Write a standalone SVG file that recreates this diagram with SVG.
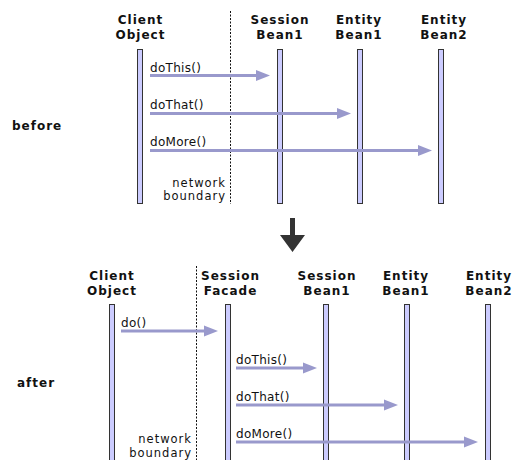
<svg xmlns="http://www.w3.org/2000/svg" width="516" height="460" viewBox="0 0 516 460">
<defs>
<style>
.hd{font-family:"DejaVu Sans",Verdana,sans-serif;font-weight:bold;font-size:12px;letter-spacing:1px;fill:#111;text-anchor:middle}
.sec{font-family:"DejaVu Sans",Verdana,sans-serif;font-weight:bold;font-size:12px;letter-spacing:1px;fill:#111}
.lb{font-family:"DejaVu Sans",Verdana,sans-serif;font-size:12px;letter-spacing:0.3px;fill:#111}
.nb{font-family:"DejaVu Sans",Verdana,sans-serif;font-size:11.5px;letter-spacing:1px;fill:#111;text-anchor:end}
.bar{fill:#ccccff;stroke:#333;stroke-width:1}
.msg{stroke:#9999cc;stroke-width:3;fill:none;marker-end:url(#ah)}
.bnd{stroke:#111;stroke-width:1;stroke-dasharray:2 1.5;fill:none}
</style>
<marker id="ah" markerUnits="userSpaceOnUse" markerWidth="14" markerHeight="12" refX="0" refY="5.5" orient="auto" overflow="visible">
<path d="M0,0 L14,5.5 L0,11 z" fill="#9999cc"/>
</marker>
</defs>

<text class="sec" x="12" y="130">before</text>
<text class="sec" x="17" y="387">after</text>

<g id="top-client">
<text class="hd" x="140.5" y="24">Client</text>
<text class="hd" x="140.5" y="38.5">Object</text>
<rect class="bar" x="137.5" y="49.5" width="5" height="154"/>
</g>
<g id="top-session-bean1">
<text class="hd" x="280" y="24">Session</text>
<text class="hd" x="280" y="38.5">Bean1</text>
<rect class="bar" x="277.5" y="49.5" width="5" height="154"/>
</g>
<g id="top-entity-bean1">
<text class="hd" x="359" y="24">Entity</text>
<text class="hd" x="359" y="38.5">Bean1</text>
<rect class="bar" x="357.5" y="49.5" width="5" height="154"/>
</g>
<g id="top-entity-bean2">
<text class="hd" x="444" y="24">Entity</text>
<text class="hd" x="444" y="38.5">Bean2</text>
<rect class="bar" x="438.5" y="49.5" width="5" height="154"/>
</g>
<g id="top-boundary">
<line class="bnd" x1="230.5" y1="11" x2="230.5" y2="204"/>
<text class="nb" x="226" y="187">network</text>
<text class="nb" x="226" y="200">boundary</text>
</g>

<g id="bottom-client">
<text class="hd" x="112" y="280">Client</text>
<text class="hd" x="112" y="295">Object</text>
<rect class="bar" x="109.5" y="304.5" width="5" height="160"/>
</g>
<g id="bottom-session-facade">
<text class="hd" x="230.5" y="280">Session</text>
<text class="hd" x="230.5" y="295">Facade</text>
<rect class="bar" x="225.5" y="304.5" width="5" height="160"/>
</g>
<g id="bottom-session-bean1">
<text class="hd" x="327" y="280">Session</text>
<text class="hd" x="327" y="295">Bean1</text>
<rect class="bar" x="323.5" y="304.5" width="5" height="160"/>
</g>
<g id="bottom-entity-bean1">
<text class="hd" x="406" y="280">Entity</text>
<text class="hd" x="406" y="295">Bean1</text>
<rect class="bar" x="404.5" y="304.5" width="5" height="160"/>
</g>
<g id="bottom-entity-bean2">
<text class="hd" x="489" y="280">Entity</text>
<text class="hd" x="489" y="295">Bean2</text>
<rect class="bar" x="485.5" y="304.5" width="5" height="160"/>
</g>
<g id="bottom-boundary">
<line class="bnd" x1="196.5" y1="266" x2="196.5" y2="460"/>
<text class="nb" x="192" y="443">network</text>
<text class="nb" x="192" y="457">boundary</text>
</g>

<g id="transition">
<path d="M290,218 H295 V235 H305 L292.5,252 L280,235 H290 Z" fill="#333"/>
</g>

<g id="connectors">
<line class="msg" x1="150" y1="75.5" x2="256" y2="75.5"/>
<line class="msg" x1="150" y1="113.5" x2="337" y2="113.5"/>
<line class="msg" x1="150" y1="150.5" x2="418" y2="150.5"/>
<line class="msg" x1="121" y1="331" x2="204" y2="331"/>
<line class="msg" x1="236" y1="368" x2="303" y2="368"/>
<line class="msg" x1="236" y1="405" x2="384" y2="405"/>
<line class="msg" x1="236" y1="442" x2="464" y2="442"/>
<text class="lb" x="150" y="72">doThis()</text>
<text class="lb" x="150" y="109">doThat()</text>
<text class="lb" x="150" y="146">doMore()</text>
<text class="lb" x="121" y="327">do()</text>
<text class="lb" x="236" y="364">doThis()</text>
<text class="lb" x="236" y="401">doThat()</text>
<text class="lb" x="236" y="438">doMore()</text>
</g>
</svg>
